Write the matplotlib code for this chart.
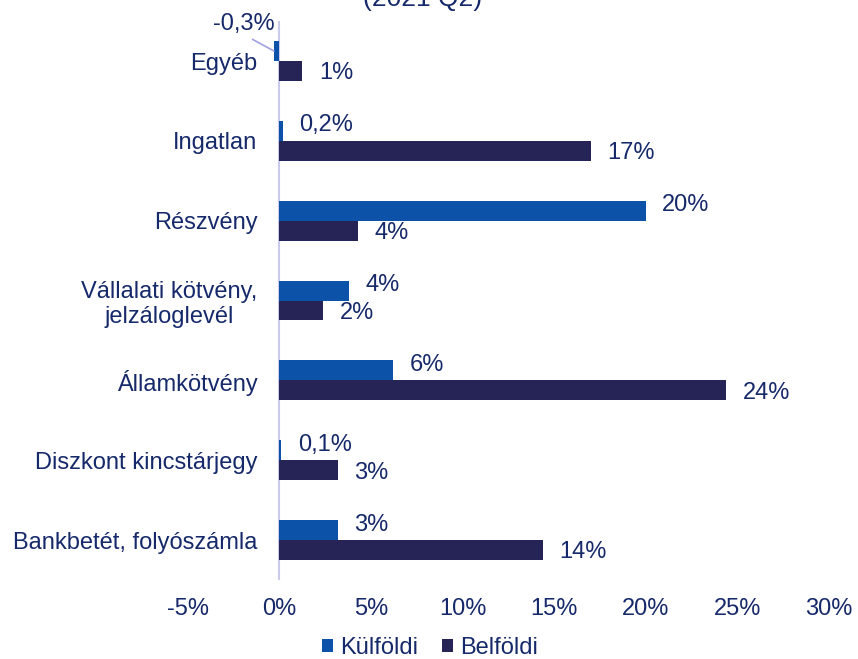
import matplotlib.pyplot as plt
import numpy as np

plt.rcParams['font.family'] = ['Liberation Sans', 'DejaVu Sans']

categories = ['Egyéb', 'Ingatlan', 'Részvény', 'Vállalati kötvény,\njelzáloglevél',
              'Államkötvény', 'Diszkont kincstárjegy', 'Bankbetét, folyószámla']
kulfoldi = [-0.3, 0.2, 20.0, 3.8, 6.2, 0.1, 3.2]
belfoldi = [1.25, 17.0, 4.3, 2.4, 24.4, 3.2, 14.4]
kulfoldi_labels = ['-0,3%', '0,2%', '20%', '4%', '6%', '0,1%', '3%']
belfoldi_labels = ['1%', '17%', '4%', '2%', '24%', '3%', '14%']
xticks = [-5, 0, 5, 10, 15, 20, 25, 30]

c_kul = '#0B52A8'
c_bel = '#262456'
c_txt = '#16296A'
fs = 17

fig = plt.figure(figsize=(8.58, 6.59), dpi=100)
ax = fig.add_axes([0.219, 0.12, 0.747, 0.848])

y = np.arange(len(categories))
h = 0.25
ax.barh(y - h / 2, kulfoldi, height=h, color=c_kul, label='Külföldi')
ax.barh(y + h / 2, belfoldi, height=h, color=c_bel, label='Belföldi')

for i in range(len(categories)):
    if kulfoldi[i] < 0:
        ax.annotate(kulfoldi_labels[i], xy=(kulfoldi[i], y[i] - h / 2),
                    xytext=(-1.95, y[i] - 0.5), ha='center', va='center_baseline',
                    fontsize=fs, color=c_txt,
                    arrowprops=dict(arrowstyle='-', color='#A0A0E0', lw=1.2,
                                    relpos=(0.5, 0), shrinkA=3, shrinkB=0))
    else:
        # foreign labels sit a little above their bar
        ax.text(kulfoldi[i] + 0.9, y[i] - h / 2 - 0.1, kulfoldi_labels[i],
                va='center_baseline', ha='left', fontsize=fs, color=c_txt)
    ax.text(belfoldi[i] + 0.9, y[i] + h / 2, belfoldi_labels[i],
            va='center_baseline', ha='left', fontsize=fs, color=c_txt)

# category labels sit inside the axes, left of the zero line
for i, cat in enumerate(categories):
    ax.text(-1.2, y[i], cat, ha='right', va='center_baseline', multialignment='center',
            fontsize=fs, color=c_txt, linespacing=1.2)

ax.set_xlim(-5, 30)
ax.set_ylim(len(categories) - 0.5, -0.5)
ax.set_xticks(xticks)
ax.set_xticklabels([f'{t}%' for t in xticks])
ax.set_yticks([])
ax.tick_params(axis='both', length=0, labelsize=fs, labelcolor=c_txt)
ax.tick_params(axis='x', pad=13)
ax.axvline(0, color='#CACAEA', lw=1.5, zorder=0)
for s in ax.spines.values():
    s.set_visible(False)

fig.text(0.493, 1 - 6 / 659, '(2021 Q2)', ha='center', va='baseline', fontsize=19, color=c_txt)

ax.legend(loc='center', bbox_to_anchor=(0.378, -0.122), ncol=2, frameon=False,
          fontsize=fs, labelcolor=c_txt, handlelength=0.47, handleheight=0.47,
          handletextpad=0.3, columnspacing=1.0, borderpad=0)

fig.savefig('out.png', dpi=100)
